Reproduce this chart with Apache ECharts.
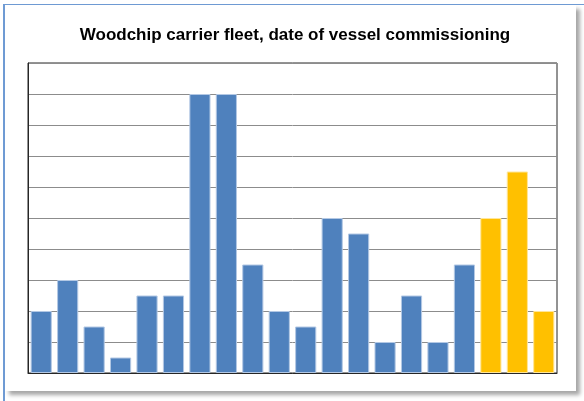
<!DOCTYPE html>
<html>
<head>
<meta charset="utf-8">
<script src="https://cdn.jsdelivr.net/npm/echarts@6/dist/echarts.min.js"></script>
<style>
  html, body { margin: 0; padding: 0; background: #fff; width: 584px; height: 401px; overflow: hidden; }
  /* 外框 蓝色边线 */
  .edge-top { position: absolute; left: 4px; top: 4px; width: 580px; height: 1px; background: #6f9bd4; }
  .edge-left { position: absolute; left: 3px; top: 4px; width: 2px; height: 397px; background: #6f9bd4; }
  #chart {
    position: absolute; left: 5px; top: 5px; width: 571px; height: 386px;
    background: #fff; box-shadow: 4px 4px 4px rgba(0,0,0,0.35);
  }
</style>
</head>
<body>
<div class="edge-top"></div>
<div class="edge-left"></div>
<div id="chart"></div>
<script>
  // 类别 (年份未标出，仅序号)
  var periods = ['1','2','3','4','5','6','7','8','9','10','11','12','13','14','15','16','17','18','19','20']
  // 已投入使用的船只 (蓝色)
  var commissioned = [2, 3, 1.5, 0.5, 2.5, 2.5, 9, 9, 3.5, 2, 1.5, 5, 4.5, 1, 2.5, 1, 3.5, null, null, null]
  // 订单 (黄色)
  var onOrder = [null, null, null, null, null, null, null, null, null, null, null, null, null, null, null, null, null, 5, 6.5, 2]

  var myChart = echarts.init(document.getElementById('chart'))

  var option = {
    animation: false,
    title: {
      text: 'Woodchip carrier fleet, date of vessel commissioning',
      left: 285,
      top: 17,
      textAlign: 'center',
      textStyle: {
        fontFamily: 'Liberation Sans, Arial, sans-serif',
        fontSize: 17,
        fontWeight: 'bold',
        color: '#000'
      }
    },
    grid: {
      left: 23,
      right: 19,
      top: 58,
      bottom: 18,
      show: true,
      borderColor: '#262626',
      borderWidth: 1,
      backgroundColor: 'transparent'
    },
    xAxis: {
      type: 'category',
      data: periods,
      axisLine: { lineStyle: { color: '#262626', width: 1 } },
      axisTick: { show: false },
      axisLabel: { show: false }
    },
    yAxis: {
      type: 'value',
      min: 0,
      max: 10,
      interval: 1,
      axisLine: { show: true, lineStyle: { color: '#262626', width: 1 } },
      axisTick: { show: false },
      axisLabel: { show: false },
      splitLine: { lineStyle: { color: '#8c8c8c', width: 1 } }
    },
    series: [
      {
        name: 'commissioned',
        type: 'bar',
        data: commissioned,
        barCategoryGap: '20%',
        barGap: '-100%',
        itemStyle: { color: '#4f81bd', borderColor: '#b3c8e4', borderWidth: 1 }
      },
      {
        name: 'on order',
        type: 'bar',
        data: onOrder,
        barCategoryGap: '20%',
        barGap: '-100%',
        itemStyle: { color: '#ffc000', borderColor: '#ffe699', borderWidth: 1 }
      }
    ]
  }

  myChart.setOption(option)
</script>
</body>
</html>
